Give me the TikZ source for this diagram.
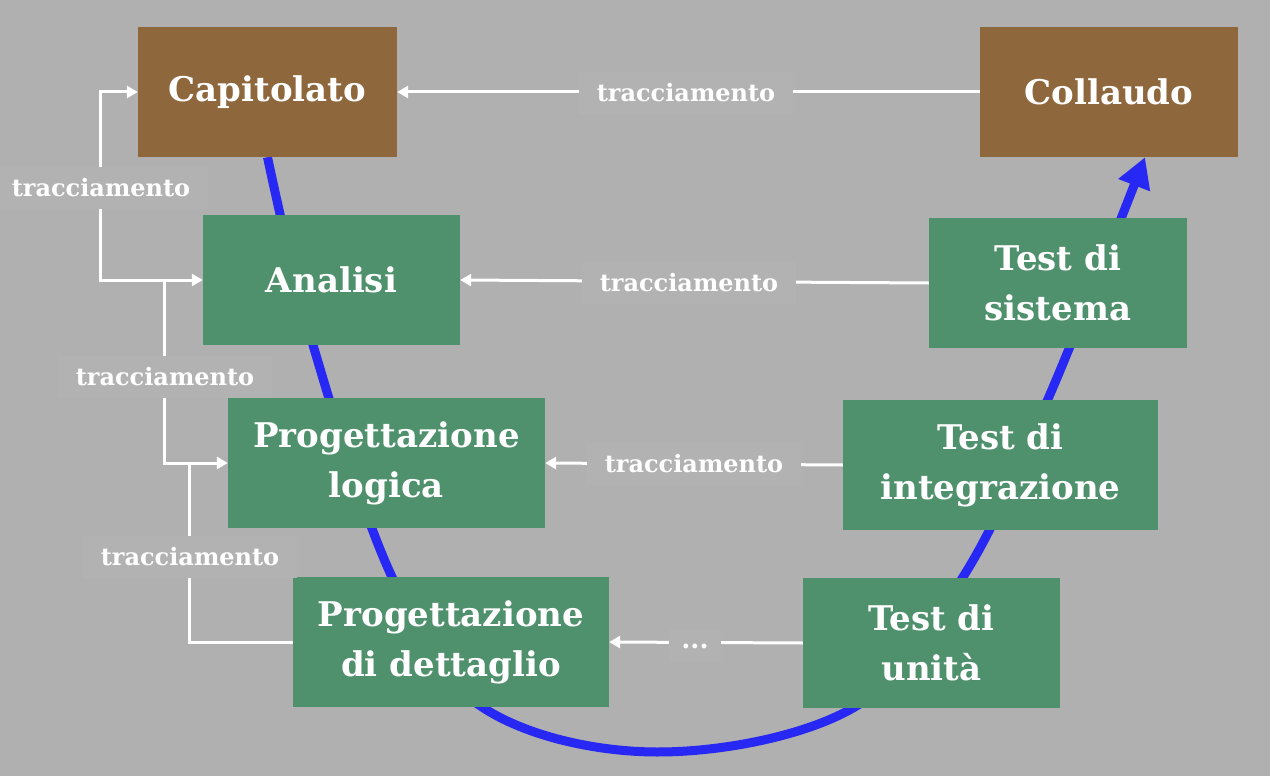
\documentclass[tikz,border=0pt]{standalone}
\usepackage{fontspec}
\setmainfont{DejaVu Serif}
\usetikzlibrary{arrows.meta}
\definecolor{bgc}{RGB}{176,176,176}
\definecolor{lblc}{RGB}{178,178,178}
\definecolor{brownc}{RGB}{143,103,60}
\definecolor{greenc}{RGB}{79,145,109}
\definecolor{bluec}{RGB}{40,40,245}
\pgfdeclarelayer{back}
\pgfdeclarelayer{curve}
\pgfsetlayers{back,curve,main}
\begin{document}
\begin{tikzpicture}[x=1pt,y=-1pt,
  >={Triangle[length=11pt,width=12pt]},
  box/.style={minimum height=130pt, inner sep=0pt, text=white,
    font=\fontsize{34}{50}\selectfont\bfseries, align=center},
  brownbox/.style={box, fill=brownc},
  greenbox/.style={box, fill=greenc},
  trace/.style={draw=white, line width=3pt},
  lbl/.style={fill=lblc, text=white, font=\fontsize{24}{28}\selectfont\bfseries,
    inner xsep=18pt, inner ysep=12pt}]
\useasboundingbox (0,0) rectangle (1270,776);
\begin{pgfonlayer}{back}
  \fill[bgc] (0,0) rectangle (1270,776);
\end{pgfonlayer}

% boxes
\node[brownbox, minimum width=259pt] (cap) at (267.5,92) {Capitolato};
\node[brownbox, minimum width=258pt] (col) at (1109,92) {Collaudo};
\node[greenbox, minimum width=257pt] (ana) at (331.5,280) {Analisi};
\node[greenbox, minimum width=258pt] (tds) at (1058,283) {Test di\\sistema};
\node[greenbox, minimum width=317pt] (pl) at (386.5,463) {Progettazione\\logica};
\node[greenbox, minimum width=315pt] (tdi) at (1000.5,465) {Test di\\integrazione};
\node[greenbox, minimum width=316pt] (pdd) at (451,642) {Progettazione\\di dettaglio};
\node[greenbox, minimum width=257pt] (tdu) at (931.5,643) {Test di\\unità};

% blue V curve
\begin{pgfonlayer}{curve}
\draw[bluec, line width=9pt, -{Triangle[length=30pt,width=32pt]}]
  plot[smooth, tension=0.6] coordinates {(cap.south) (313,345) (392,577)
    (482,707) (657,752) (853,708) (963,577) (1048,399) ([xshift=36pt]col.south)};
\end{pgfonlayer}

% horizontal tracing
\draw[trace,->] (col.west) -- (cap.east);
\draw[trace,->] (tds.west) -- (ana.east);
\draw[trace,->] (tdi.west) -- (pl.east);
\draw[trace,->] (tdu.west) -- (pdd.east);
\node[lbl] (h1) at (686,93) {tracciamento};
\node[lbl] (h2) at (689,283) {tracciamento};
\node[lbl] (h3) at (694,464) {tracciamento};
\node[lbl, inner xsep=12pt, inner ysep=14pt, font=\fontsize{26}{28}\selectfont\bfseries] (h4) at (695,646) {...};

% left tracing
\coordinate (j0) at ([xshift=-37pt]cap.west);
\coordinate (j1) at ([xshift=-38pt]ana.west);
\coordinate (j2) at ([xshift=-38pt]pl.west);
\draw[trace,<->] (cap.west) -- (j0) |- (ana.west);
\draw[trace,->] (j1) |- (pl.west);
\draw[trace] (pdd.west) -| (j2);
\node[lbl] (v1) at (101,188) {tracciamento};
\node[lbl] (v2) at (165,377) {tracciamento};
\node[lbl] (v3) at (190,557) {tracciamento};
\end{tikzpicture}
\end{document}
